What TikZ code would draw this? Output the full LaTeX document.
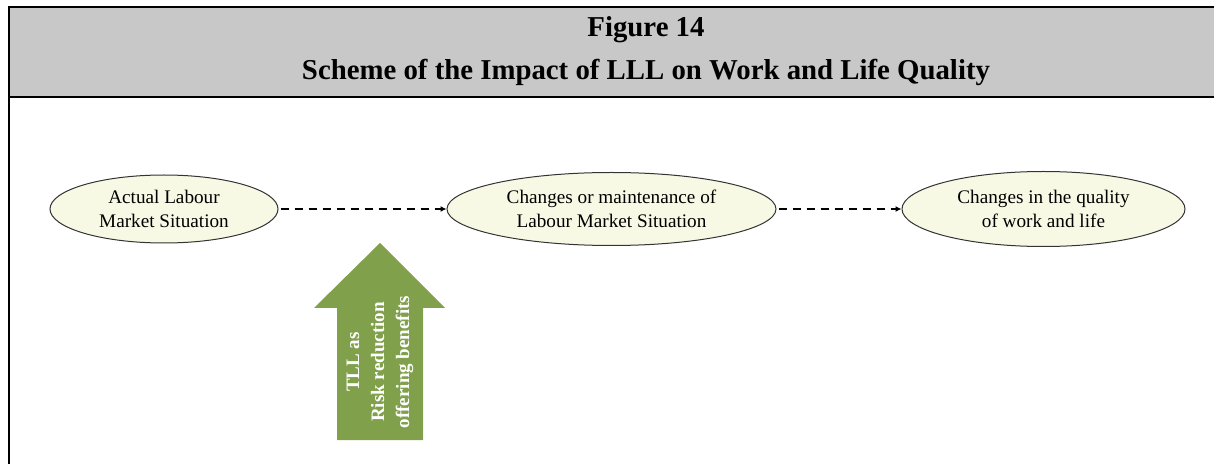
\documentclass[tikz,border=0pt]{standalone}
\usepackage{fontspec}
\setmainfont{Liberation Serif}
\usetikzlibrary{arrows.meta, positioning, shapes.geometric}

\definecolor{headgray}{HTML}{C8C8C8}
\definecolor{ovalfill}{HTML}{F8F9E4}
\definecolor{olivegreen}{HTML}{80A04C}

\begin{document}
\begin{tikzpicture}[
            x=0.5pt, y=-0.5pt,
            >=Latex,
            % Estilo das elipses
            state/.style={
                draw=black!80,
                fill=ovalfill,
                ellipse,
                line width=0.5pt,
                inner sep=0pt,
                align=center,
                font=\fontsize{9.6}{12}\selectfont
            },
            % Estilo das setas tracejadas
            flow/.style={
                draw=black,
                ->,
                line width=1pt,
                dash pattern=on 4pt off 3pt,
                shorten <=1pt,
                arrows={-Latex[length=3pt,width=3pt]}
            },
            % Estilo do titulo
            heading/.style={
                anchor=base,
                font=\fontsize{14.4}{17}\selectfont\bfseries
            }
        ]

            % Area e cabecalho
            \fill [white] (0,0) rectangle (1214,464);
            \useasboundingbox (0,0) rectangle (1214,464);
            \fill [headgray] (9,7) rectangle (1214,97);
            \draw [line width=1.3pt] (1214,7) -- (9,7) -- (9,464);
            \draw [line width=1.3pt] (9,97) -- (1214,97);

            \node [heading] (fignum) at (646,37) {Figure 14};
            \node [heading] (figtitle) at (646,80) {Scheme of the Impact of LLL on Work and Life Quality};

            % Elipses
            \node [state, minimum width=114pt, minimum height=34pt] (actual) at (164,209)
                {Actual Labour\\Market Situation};
            \node [state, minimum width=164.5pt, minimum height=36.5pt, right=84pt of actual] (change)
                {Changes or maintenance of\\Labour Market Situation};
            \node [state, minimum width=141.5pt, minimum height=37.5pt, right=62.5pt of change] (quality)
                {Changes in the quality\\of work and life};

            % Setas
            \draw [flow] (actual) -- (change);
            \draw [flow] (change) -- (quality);

            % Seta verde
            \fill [olivegreen] (337,440) -- (337,308) -- (314,308) -- (380,243)
                -- (445,308) -- (423,308) -- (423,440) -- cycle;
            \node [rotate=90, text=white, align=center,
                font=\fontsize{9.5}{12.5}\selectfont\bfseries] (lll) at (380,362)
                {TLL as\\Risk reduction\\offering benefits};

        \end{tikzpicture}
\end{document}
